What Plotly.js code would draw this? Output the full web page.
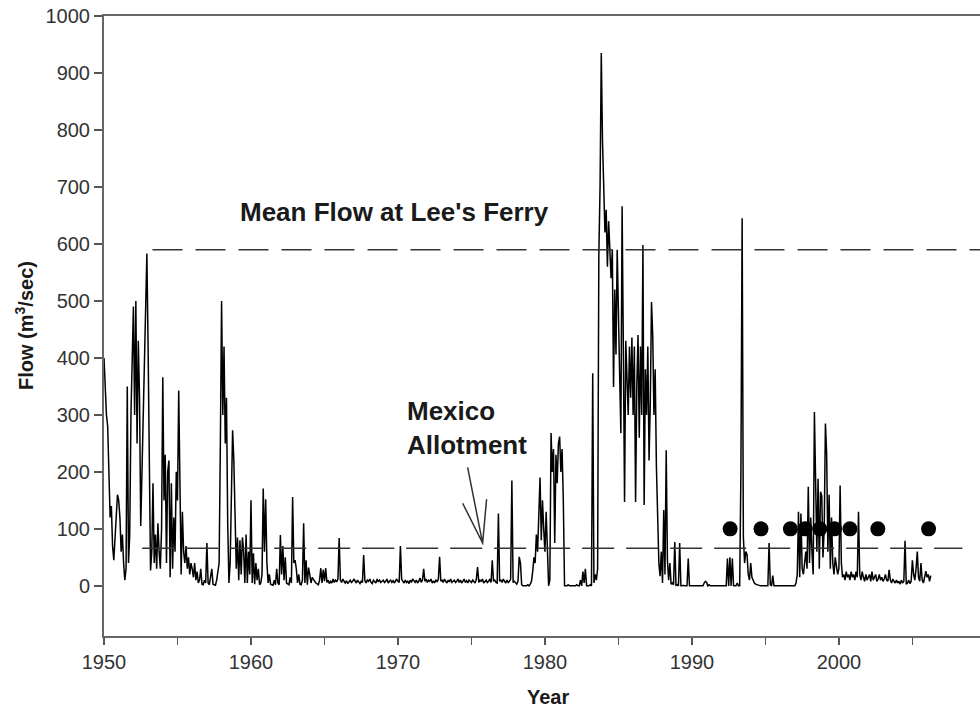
<!DOCTYPE html>
<html>
<head>
<meta charset="utf-8">
<script src="https://cdn.plot.ly/plotly-3.0.1.min.js"></script>
<style>html,body{margin:0;padding:0;background:#fff;}#chart{width:980px;height:708px;}</style>
</head>
<body>
<div id="chart"></div>
<script>
// Monthly flow (m3/sec), one value per month, starting January of each decade
const flow1950s = [
  400,330,300,280,200,120,140,70,45,80,110,160,
  150,120,60,90,40,10,30,350,40,90,300,420,
  490,300,500,250,430,330,105,200,300,400,470,583,
  420,150,27,60,180,40,90,30,110,60,30,100,
  366,150,230,40,200,220,15,180,30,120,60,200,
  150,343,120,20,130,60,40,70,30,50,20,40,
  30,15,40,10,25,5,10,30,3,2,10,5,
  75,5,2,20,30,3,2,1,10,30,40,250,
  500,300,420,250,330,110,5,40,170,273,220,90,
  30,85,10,80,20,85,60,5,90,5,60,20
];
const flow1960s = [
  150,5,57,3,40,10,30,2,5,20,171,60,
  152,40,5,20,3,2,1,10,2,30,5,2,
  89,20,70,10,50,5,3,2,15,5,156,40,
  45,30,5,20,3,2,10,110,5,45,2,32,
  20,5,15,10,8,5,3,2,10,31,5,28,
  8,31,6,10,4,8,5,12,6,10,7,12,
  84,10,6,12,8,5,9,4,7,10,6,8,
  12,8,5,10,6,4,8,6,54,9,5,10,
  8,12,6,4,10,8,5,12,7,10,6,8,
  10,6,8,12,5,8,10,6,9,5,8,12
];
const flow1970s = [
  8,6,70,12,8,5,10,6,8,4,10,6,
  12,8,6,10,5,8,14,6,10,30,8,12,
  6,10,8,12,5,8,6,10,7,12,51,8,
  10,6,12,8,5,10,7,12,6,8,10,6,
  8,12,6,10,5,8,12,6,9,5,10,8,
  6,10,8,5,12,33,6,10,8,12,5,8,
  10,6,8,12,6,45,8,10,6,5,127,8,
  10,6,12,8,5,10,6,8,12,185,6,8,
  5,3,8,51,40,2,0,0,1,0,2,0,
  3,8,25,50,40,90,60,110,190,80,150,100
];
const flow1980s = [
  60,130,50,0,10,268,200,240,75,230,180,250,
  262,200,240,150,0,0,0,2,0,0,0,0,
  0,0,2,0,0,10,0,25,5,30,0,0,
  0,2,0,373,5,20,10,30,580,700,935,780,
  690,620,660,560,640,600,540,590,349,520,406,590,
  440,370,268,666,420,147,430,380,300,420,330,436,
  300,420,147,350,440,260,420,300,598,142,380,300,
  420,220,320,498,440,300,380,210,118,40,17,60,
  5,133,20,238,45,10,40,3,5,2,77,1,
  2,0,75,0,0,1,0,0,0,48,0,0
];
const flow1990s = [
  0,0,0,0,0,0,0,0,0,0,5,8,
  6,0,2,0,0,0,0,0,0,0,0,0,
  0,0,0,0,0,48,0,50,0,48,0,0,
  0,5,0,0,200,645,86,40,60,55,20,10,
  40,15,8,5,3,2,1,0,0,0,0,0,
  0,0,0,75,2,0,18,0,0,0,0,0,
  0,0,0,0,0,0,0,0,0,0,0,0,
  0,5,20,130,15,127,30,20,40,60,30,174,
  40,120,60,20,305,180,60,188,30,165,158,50,
  100,285,232,60,160,30,120,40,20,50,30,20
];
const flow2000s = [
  30,176,40,15,20,10,25,15,20,10,25,15,
  20,10,25,15,130,20,10,25,15,8,20,10,
  15,20,8,25,10,15,20,8,12,20,10,15,
  8,12,20,10,8,28,10,5,12,8,5,10,
  5,8,3,10,5,8,79,3,5,10,4,8,
  45,20,10,30,60,15,8,40,10,5,20,26,
  15,20,8,18
];
const decadeStarts = [1950, 1960, 1970, 1980, 1990, 2000];

// Reference levels
const meanFlowLeesFerry = 590;
const meanFlowSpan = [1953.3, 2009.6];
const mexicoAllotment = 66;
const mexicoSpan = [1952.6, 2008.4];

// Dot markers
const dotYears = [1992.6, 1994.7, 1996.7, 1997.7, 1998.7, 1999.7, 2000.75, 2002.65, 2006.1];
const dotLevel = [100, 100, 100, 100, 100, 100, 100, 100, 100];

// Axis ticks
const xTickVals = [1950,1960,1970,1980,1990,2000];
const xTickText = ['1950','1960','1970','1980','1990','2000'];
const yTickVals = [0,100,200,300,400,500,600,700,800,900,1000];

// Build series
const decades = [flow1950s, flow1960s, flow1970s, flow1980s, flow1990s, flow2000s];
const years = [], flows = [];
decades.forEach((arr, d) => {
  arr.forEach((v, i) => { years.push(decadeStarts[d] + i / 12); flows.push(v); });
});

const font = 'Liberation Sans, Arial, Helvetica, sans-serif';

const traces = [
  {x: years, y: flows, type: 'scatter', mode: 'lines',
   line: {color: '#000', width: 1.5}, hoverinfo: 'skip'},
  {x: meanFlowSpan, y: [meanFlowLeesFerry, meanFlowLeesFerry], type: 'scatter', mode: 'lines',
   line: {color: '#333', width: 1.5, dash: '30px,13px'}},
  {x: mexicoSpan, y: [mexicoAllotment, mexicoAllotment], type: 'scatter', mode: 'lines',
   line: {color: '#333', width: 1.5, dash: '32px,12px'}},
  {x: dotYears, y: dotLevel, type: 'scatter', mode: 'markers',
   marker: {color: '#000', size: 15}}
];

const layout = {
  width: 980, height: 708,
  margin: {l: 104, r: 0, t: 16, b: 72},
  paper_bgcolor: '#fff', plot_bgcolor: '#fff',
  showlegend: false,
  font: {family: font, color: '#222'},
  xaxis: {
    range: [1950, 2009.6], showgrid: false, zeroline: false,
    showline: true, linecolor: '#666', linewidth: 2, mirror: true,
    tickmode: 'array', tickvals: xTickVals, ticktext: xTickText,
    ticks: 'outside', ticklen: 7, tickwidth: 1.5, tickcolor: '#555',
    minor: {dtick: 5, tick0: 1950, ticks: 'outside', ticklen: 7, tickwidth: 1.5, tickcolor: '#555', showgrid: false},
    tickfont: {family: font, size: 20, color: '#333'}
  },
  yaxis: {
    range: [-88, 1000], showgrid: false, zeroline: false,
    showline: true, linecolor: '#666', linewidth: 2,
    tickmode: 'array', tickvals: yTickVals,
    ticks: 'outside', ticklen: 8, tickwidth: 1.5, tickcolor: '#555',
    tickfont: {family: font, size: 20, color: '#333'}
  },
  annotations: [
    {text: "Mean Flow at Lee's Ferry", xref: 'paper', yref: 'paper', x: 0.1525, y: 0.684,
     xanchor: 'left', yanchor: 'middle', showarrow: false,
     font: {family: font, size: 26, color: '#1a1a1a', weight: 'bold'}},
    {text: 'Mexico<br>Allotment', xref: 'paper', yref: 'paper', x: 0.344, y: 0.335,
     xanchor: 'left', yanchor: 'middle', align: 'left', showarrow: false,
     font: {family: font, size: 26, color: '#1a1a1a', weight: 'bold'}},
    {text: 'Flow (m<sup>3</sup>/sec)', xref: 'paper', yref: 'paper', x: 0, y: 0.5,
     xshift: -80, xanchor: 'center', yanchor: 'middle', textangle: -90, showarrow: false,
     font: {family: font, size: 20, color: '#1a1a1a', weight: 'bold'}},
    {text: 'Year', xref: 'paper', yref: 'paper', x: 0.507, y: -0.098,
     xanchor: 'center', yanchor: 'middle', showarrow: false,
     font: {family: font, size: 20, color: '#1a1a1a', weight: 'bold'}}
  ],
  shapes: [
    {type: 'path', xref: 'x', yref: 'y',
     path: 'M 1974.74 208 L 1975.76 75 M 1974.4 145 L 1975.76 75 L 1976.03 152',
     line: {color: '#333', width: 1.5}}
  ]
};

Plotly.newPlot('chart', traces, layout, {staticPlot: true, displayModeBar: false});
</script>
</body>
</html>
